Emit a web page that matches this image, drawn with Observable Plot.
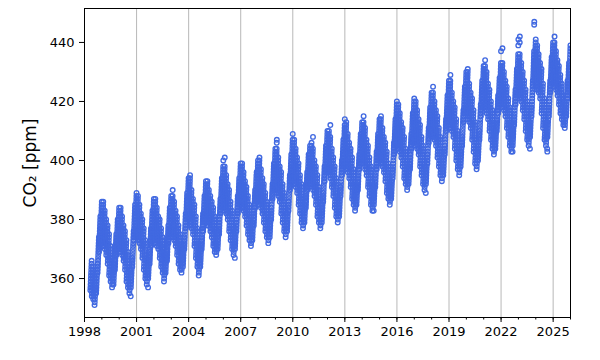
<!DOCTYPE html>
<html><head><meta charset="utf-8">
<script src="https://cdn.jsdelivr.net/npm/d3@7"></script>
<script src="https://cdn.jsdelivr.net/npm/@observablehq/plot@0.6"></script>
<style>body{margin:0;background:#fff}</style>
</head><body><div id="chart"></div>
<script>
// Years covered and tick labels
const years = [1998,1999,2000,2001,2002,2003,2004,2005,2006,2007,2008,2009,2010,2011,2012,2013,2014,2015,2016,2017,2018,2019,2020,2021,2022,2023,2024,2025];
const xMajorTicks = [1998,2001,2004,2007,2010,2013,2016,2019,2022,2025];
const xMinorTicks = [1998,1999,2000,2001,2002,2003,2004,2005,2006,2007,2008,2009,2010,2011,2012,2013,2014,2015,2016,2017,2018,2019,2020,2021,2022,2023,2024,2025,2026];
const yTicks = [360,380,400,420,440];
const yLabel = "CO₂ [ppm]";

// CO2 samples [ppm], one string per month (Jan..Dec)
const co2_1998 = ["","","","",
"356 357 358 359 360 361 362 363 364 365 366",
"354 355 356 357 358 359 360 361 362 363 364",
"353 354 355 356 357 358 359 360 361 351",
"352 353 354 355 356 357 358 359 360",
"355 356 357 358 359 360 361 362 363 364 365",
"362 363 364 365 366 367 368 369 370 371 372 373 374",
"369 370 371 372 373 374 375 376 377 378 379 380 381",
"372 373 374 375 376 377 378 379 380 381 382 383 384 385 386"];
const co2_1999 = [
"372 373 374 375 376 377 378 379 380 381 382 383 384 385 386",
"371 372 373 374 375 376 377 378 379 380 381 382 383",
"370 371 372 373 374 375 376 377 378 379 380",
"368 369 370 371 372 373 374 375 376 377 378",
"365 366 367 368 369 370 371 372 373 374 375",
"361 362 363 364 365 366 367 368 369 370 371",
"359 360 361 362 363 364 365 366 367",
"357 358 359 360 361 362 363 364 365",
"358 359 360 361 362 363 364 365 366 367 368",
"363 364 365 366 367 368 369 370 371 372 373 374 375",
"368 369 370 371 372 373 374 375 376 377 378 379 380",
"370 371 372 373 374 375 376 377 378 379 380 381 382 383 384"];
const co2_2000 = [
"370 371 372 373 374 375 376 377 378 379 380 381 382 383 384",
"369 370 371 372 373 374 375 376 377 378 379 380 381",
"368 369 370 371 372 373 374 375 376 377 378",
"366 367 368 369 370 371 372 373 374 375 376",
"363 364 365 366 367 368 369 370 371 372 373",
"359 360 361 362 363 364 365 366 367 368 369",
"357 358 359 360 361 362 363 364 365",
"355 356 357 358 359 360 361 362 363 354",
"357 358 359 360 361 362 363 364 365 366 367",
"364 365 366 367 368 369 370 371 372 373 374 375 376",
"373 374 375 376 377 378 379 380 381 382 383 384 385",
"374 375 376 377 378 379 380 381 382 383 384 385 386 387 388 389"];
const co2_2001 = [
"374 375 376 377 378 379 380 381 382 383 384 385 386 387 388",
"373 374 375 376 377 378 379 380 381 382 383 384 385",
"372 373 374 375 376 377 378 379 380 381 382",
"370 371 372 373 374 375 376 377 378 379 380",
"367 368 369 370 371 372 373 374 375 376 377",
"363 364 365 366 367 368 369 370 371 372 373",
"360 361 362 363 364 365 366 367 368",
"358 359 360 361 362 363 364 365 366 357",
"360 361 362 363 364 365 366 367 368 369 370",
"365 366 367 368 369 370 371 372 373 374 375 376 377",
"371 372 373 374 375 376 377 378 379 380 381 382 383",
"373 374 375 376 377 378 379 380 381 382 383 384 385 386 387"];
const co2_2002 = [
"373 374 375 376 377 378 379 380 381 382 383 384 385 386 387",
"372 373 374 375 376 377 378 379 380 381 382 383 384",
"371 372 373 374 375 376 377 378 379 380 381",
"370 371 372 373 374 375 376 377 378 379 380",
"367 368 369 370 371 372 373 374 375 376 377",
"364 365 366 367 368 369 370 371 372 373 374",
"362 363 364 365 366 367 368 369 370 359",
"360 361 362 363 364 365 366 367 368",
"362 363 364 365 366 367 368 369 370 371 372",
"366 367 368 369 370 371 372 373 374 375 376 377 378",
"372 373 374 375 376 377 378 379 380 381 382 383 384",
"374 375 376 377 378 379 380 381 382 383 384 385 386 387 388"];
const co2_2003 = [
"374 375 376 377 378 379 380 381 382 383 384 385 386 387 388 390",
"374 375 376 377 378 379 380 381 382 383 384 385 386",
"373 374 375 376 377 378 379 380 381 382 383",
"371 372 373 374 375 376 377 378 379 380 381",
"368 369 370 371 372 373 374 375 376 377 378",
"365 366 367 368 369 370 371 372 373 374 375",
"363 364 365 366 367 368 369 370 371",
"362 363 364 365 366 367 368 369 370",
"364 365 366 367 368 369 370 371 372 373 374",
"370 371 372 373 374 375 376 377 378 379 380 381 382",
"377 378 379 380 381 382 383 384 385 386 387 388 389",
"380 381 382 383 384 385 386 387 388 389 390 391 392 393 394"];
const co2_2004 = [
"380 381 382 383 384 385 386 387 388 389 390 391 392 393 394 395",
"378 379 380 381 382 383 384 385 386 387 388 389 390",
"377 378 379 380 381 382 383 384 385 386 387",
"375 376 377 378 379 380 381 382 383 384 385",
"371 372 373 374 375 376 377 378 379 380 381",
"367 368 369 370 371 372 373 374 375 376 377",
"364 365 366 367 368 369 370 371 372 361",
"362 363 364 365 366 367 368 369 370",
"364 365 366 367 368 369 370 371 372 373 374",
"370 371 372 373 374 375 376 377 378 379 380 381 382",
"376 377 378 379 380 381 382 383 384 385 386 387 388",
"379 380 381 382 383 384 385 386 387 388 389 390 391 392 393"];
const co2_2005 = [
"379 380 381 382 383 384 385 386 387 388 389 390 391 392 393",
"378 379 380 381 382 383 384 385 386 387 388 389 390",
"378 379 380 381 382 383 384 385 386 387 388",
"376 377 378 379 380 381 382 383 384 385 386",
"374 375 376 377 378 379 380 381 382 383 384",
"371 372 373 374 375 376 377 378 379 380 381",
"369 370 371 372 373 374 375 376 377",
"368 369 370 371 372 373 374 375 376",
"370 371 372 373 374 375 376 377 378 379 380",
"375 376 377 378 379 380 381 382 383 384 385 386 387",
"382 383 384 385 386 387 388 389 390 391 392 393 394",
"384 385 386 387 388 389 390 391 392 393 394 395 396 397 398 400"];
const co2_2006 = [
"384 385 386 387 388 389 390 391 392 393 394 395 396 397 398 401",
"383 384 385 386 387 388 389 390 391 392 393 394 395",
"382 383 384 385 386 387 388 389 390 391 392",
"380 381 382 383 384 385 386 387 388 389 390",
"376 377 378 379 380 381 382 383 384 385 386",
"373 374 375 376 377 378 379 380 381 382 383",
"370 371 372 373 374 375 376 377 378",
"368 369 370 371 372 373 374 375 376 367",
"370 371 372 373 374 375 376 377 378 379 380",
"376 377 378 379 380 381 382 383 384 385 386 387 388",
"382 383 384 385 386 387 388 389 390 391 392 393 394",
"385 386 387 388 389 390 391 392 393 394 395 396 397 398 399"];
const co2_2007 = [
"385 386 387 388 389 390 391 392 393 394 395 396 397 398 399",
"384 385 386 387 388 389 390 391 392 393 394 395 396",
"383 384 385 386 387 388 389 390 391 392 393",
"381 382 383 384 385 386 387 388 389 390 391",
"378 379 380 381 382 383 384 385 386 387 388",
"375 376 377 378 379 380 381 382 383 384 385",
"373 374 375 376 377 378 379 380 381",
"371 372 373 374 375 376 377 378 379",
"373 374 375 376 377 378 379 380 381 382 383",
"378 379 380 381 382 383 384 385 386 387 388 389 390",
"384 385 386 387 388 389 390 391 392 393 394 395 396",
"386 387 388 389 390 391 392 393 394 395 396 397 398 399 400"];
const co2_2008 = [
"386 387 388 389 390 391 392 393 394 395 396 397 398 399 400 401",
"385 386 387 388 389 390 391 392 393 394 395 396 397",
"384 385 386 387 388 389 390 391 392 393 394",
"382 383 384 385 386 387 388 389 390 391 392",
"379 380 381 382 383 384 385 386 387 388 389",
"376 377 378 379 380 381 382 383 384 385 386",
"374 375 376 377 378 379 380 381 382",
"372 373 374 375 376 377 378 379 380",
"374 375 376 377 378 379 380 381 382 383 384",
"380 381 382 383 384 385 386 387 388 389 390 391 392",
"387 388 389 390 391 392 393 394 395 396 397 398 399",
"390 391 392 393 394 395 396 397 398 399 400 401 402 403 404"];
const co2_2009 = [
"390 391 392 393 394 395 396 397 398 399 400 401 402 403 404 406 407",
"389 390 391 392 393 394 395 396 397 398 399 400 401",
"388 389 390 391 392 393 394 395 396 397 398",
"386 387 388 389 390 391 392 393 394 395 396",
"382 383 384 385 386 387 388 389 390 391 392",
"379 380 381 382 383 384 385 386 387 388 389",
"376 377 378 379 380 381 382 383 384",
"374 375 376 377 378 379 380 381 382",
"376 377 378 379 380 381 382 383 384 385 386",
"383 384 385 386 387 388 389 390 391 392 393 394 395",
"390 391 392 393 394 395 396 397 398 399 400 401 402",
"393 394 395 396 397 398 399 400 401 402 403 404 405 406 407 409"];
const co2_2010 = [
"393 394 395 396 397 398 399 400 401 402 403 404 405 406 407",
"392 393 394 395 396 397 398 399 400 401 402 403 404",
"391 392 393 394 395 396 397 398 399 400 401",
"389 390 391 392 393 394 395 396 397 398 399",
"385 386 387 388 389 390 391 392 393 394 395",
"382 383 384 385 386 387 388 389 390 391 392",
"379 380 381 382 383 384 385 386 387",
"377 378 379 380 381 382 383 384 385",
"379 380 381 382 383 384 385 386 387 388 389",
"384 385 386 387 388 389 390 391 392 393 394 395 396",
"390 391 392 393 394 395 396 397 398 399 400 401 402",
"391 392 393 394 395 396 397 398 399 400 401 402 403 404 405"];
const co2_2011 = [
"392 393 394 395 396 397 398 399 400 401 402 403 404 405 406",
"392 393 394 395 396 397 398 399 400 401 402 403 404 408",
"390 391 392 393 394 395 396 397 398 399 400",
"388 389 390 391 392 393 394 395 396 397 398",
"385 386 387 388 389 390 391 392 393 394 395",
"381 382 383 384 385 386 387 388 389 390 391",
"379 380 381 382 383 384 385 386 387",
"377 378 379 380 381 382 383 384 385",
"379 380 381 382 383 384 385 386 387 388 389",
"386 387 388 389 390 391 392 393 394 395 396 397 398",
"393 394 395 396 397 398 399 400 401 402 403 404 405",
"396 397 398 399 400 401 402 403 404 405 406 407 408 409 410"];
const co2_2012 = [
"396 397 398 399 400 401 402 403 404 405 406 407 408 409 410",
"396 397 398 399 400 401 402 403 404 405 406 407 408 412",
"394 395 396 397 398 399 400 401 402 403 404",
"391 392 393 394 395 396 397 398 399 400 401",
"388 389 390 391 392 393 394 395 396 397 398",
"384 385 386 387 388 389 390 391 392 393 394",
"381 382 383 384 385 386 387 388 389",
"379 380 381 382 383 384 385 386 387",
"381 382 383 384 385 386 387 388 389 390 391",
"388 389 390 391 392 393 394 395 396 397 398 399 400",
"395 396 397 398 399 400 401 402 403 404 405 406 407",
"398 399 400 401 402 403 404 405 406 407 408 409 410 411 412 414"];
const co2_2013 = [
"398 399 400 401 402 403 404 405 406 407 408 409 410 411 412 413",
"397 398 399 400 401 402 403 404 405 406 407 408 409",
"396 397 398 399 400 401 402 403 404 405 406",
"394 395 396 397 398 399 400 401 402 403 404",
"391 392 393 394 395 396 397 398 399 400 401",
"387 388 389 390 391 392 393 394 395 396 397",
"385 386 387 388 389 390 391 392 393",
"383 384 385 386 387 388 389 390 391",
"385 386 387 388 389 390 391 392 393 394 395",
"390 391 392 393 394 395 396 397 398 399 400 401 402",
"397 398 399 400 401 402 403 404 405 406 407 408 409",
"399 400 401 402 403 404 405 406 407 408 409 410 411 412 413"];
const co2_2014 = [
"399 400 401 402 403 404 405 406 407 408 409 410 411 412 413 415",
"399 400 401 402 403 404 405 406 407 408 409 410 411",
"397 398 399 400 401 402 403 404 405 406 407",
"395 396 397 398 399 400 401 402 403 404 405",
"391 392 393 394 395 396 397 398 399 400 401",
"388 389 390 391 392 393 394 395 396 397 398",
"385 386 387 388 389 390 391 392 393",
"383 384 385 386 387 388 389 390 391 383",
"385 386 387 388 389 390 391 392 393 394 395",
"391 392 393 394 395 396 397 398 399 400 401 402 403",
"397 398 399 400 401 402 403 404 405 406 407 408 409",
"400 401 402 403 404 405 406 407 408 409 410 411 412 413 414"];
const co2_2015 = [
"400 401 402 403 404 405 406 407 408 409 410 411 412 413 414 415",
"399 400 401 402 403 404 405 406 407 408 409 410 411",
"398 399 400 401 402 403 404 405 406 407 408",
"396 397 398 399 400 401 402 403 404 405 406",
"393 394 395 396 397 398 399 400 401 402 403",
"389 390 391 392 393 394 395 396 397 398 399",
"387 388 389 390 391 392 393 394 395",
"385 386 387 388 389 390 391 392 393",
"387 388 389 390 391 392 393 394 395 396 397",
"394 395 396 397 398 399 400 401 402 403 404 405 406",
"402 403 404 405 406 407 408 409 410 411 412 413 414",
"405 406 407 408 409 410 411 412 413 414 415 416 417 418 419 420"];
const co2_2016 = [
"405 406 407 408 409 410 411 412 413 414 415 416 417 418 419",
"404 405 406 407 408 409 410 411 412 413 414 415 416",
"403 404 405 406 407 408 409 410 411 412 413",
"401 402 403 404 405 406 407 408 409 410 411",
"398 399 400 401 402 403 404 405 406 407 408",
"394 395 396 397 398 399 400 401 402 403 404",
"392 393 394 395 396 397 398 399 400",
"390 391 392 393 394 395 396 397 398",
"392 393 394 395 396 397 398 399 400 401 402",
"397 398 399 400 401 402 403 404 405 406 407 408 409",
"404 405 406 407 408 409 410 411 412 413 414 415 416",
"406 407 408 409 410 411 412 413 414 415 416 417 418 419 420 421"];
const co2_2017 = [
"406 407 408 409 410 411 412 413 414 415 416 417 418 419 420",
"405 406 407 408 409 410 411 412 413 414 415 416 417",
"404 405 406 407 408 409 410 411 412 413 414",
"402 403 404 405 406 407 408 409 410 411 412",
"398 399 400 401 402 403 404 405 406 407 408",
"395 396 397 398 399 400 401 402 403 404 405",
"392 393 394 395 396 397 398 399 400",
"390 391 392 393 394 395 396 397 398 389",
"392 393 394 395 396 397 398 399 400 401 402",
"399 400 401 402 403 404 405 406 407 408 409 410 411",
"406 407 408 409 410 411 412 413 414 415 416 417 418",
"409 410 411 412 413 414 415 416 417 418 419 420 421 422 423"];
const co2_2018 = [
"409 410 411 412 413 414 415 416 417 418 419 420 421 422 423 425",
"408 409 410 411 412 413 414 415 416 417 418 419 420",
"407 408 409 410 411 412 413 414 415 416 417",
"405 406 407 408 409 410 411 412 413 414 415",
"401 402 403 404 405 406 407 408 409 410 411",
"398 399 400 401 402 403 404 405 406 407 408",
"395 396 397 398 399 400 401 402 403",
"393 394 395 396 397 398 399 400 401",
"395 396 397 398 399 400 401 402 403 404 405",
"402 403 404 405 406 407 408 409 410 411 412 413 414",
"410 411 412 413 414 415 416 417 418 419 420 421 422",
"413 414 415 416 417 418 419 420 421 422 423 424 425 426 427"];
const co2_2019 = [
"413 414 415 416 417 418 419 420 421 422 423 424 425 426 427 429",
"411 412 413 414 415 416 417 418 419 420 421 422 423",
"410 411 412 413 414 415 416 417 418 419 420",
"408 409 410 411 412 413 414 415 416 417 418",
"404 405 406 407 408 409 410 411 412 413 414",
"400 401 402 403 404 405 406 407 408 409 410",
"397 398 399 400 401 402 403 404 405",
"395 396 397 398 399 400 401 402 403",
"398 399 400 401 402 403 404 405 406 407 408",
"405 406 407 408 409 410 411 412 413 414 415 416 417",
"413 414 415 416 417 418 419 420 421 422 423 424 425",
"416 417 418 419 420 421 422 423 424 425 426 427 428 429 430"];
const co2_2020 = [
"416 417 418 419 420 421 422 423 424 425 426 427 428 429 430 431",
"414 415 416 417 418 419 420 421 422 423 424 425 426",
"413 414 415 416 417 418 419 420 421 422 423",
"411 412 413 414 415 416 417 418 419 420 421",
"407 408 409 410 411 412 413 414 415 416 417",
"403 404 405 406 407 408 409 410 411 412 413",
"399 400 401 402 403 404 405 406 407",
"397 398 399 400 401 402 403 404 405",
"400 401 402 403 404 405 406 407 408 409 410",
"407 408 409 410 411 412 413 414 415 416 417 418 419",
"415 416 417 418 419 420 421 422 423 424 425 426 427",
"418 419 420 421 422 423 424 425 426 427 428 429 430 431 432"];
const co2_2021 = [
"418 419 420 421 422 423 424 425 426 427 428 429 430 431 432 434",
"418 419 420 421 422 423 424 425 426 427 428 429 430",
"416 417 418 419 420 421 422 423 424 425 426",
"414 415 416 417 418 419 420 421 422 423 424",
"410 411 412 413 414 415 416 417 418 419 420",
"407 408 409 410 411 412 413 414 415 416 417",
"404 405 406 407 408 409 410 411 412",
"402 403 404 405 406 407 408 409 410",
"404 405 406 407 408 409 410 411 412 413 414",
"410 411 412 413 414 415 416 417 418 419 420 421 422",
"416 417 418 419 420 421 422 423 424 425 426 427 428",
"419 420 421 422 423 424 425 426 427 428 429 430 431 432 433 437"];
const co2_2022 = [
"419 420 421 422 423 424 425 426 427 428 429 430 431 432 433 438",
"418 419 420 421 422 423 424 425 426 427 428 429 430",
"417 418 419 420 421 422 423 424 425 426 427",
"415 416 417 418 419 420 421 422 423 424 425",
"411 412 413 414 415 416 417 418 419 420 421",
"408 409 410 411 412 413 414 415 416 417 418",
"405 406 407 408 409 410 411 412 413",
"403 404 405 406 407 408 409 410 411 403",
"405 406 407 408 409 410 411 412 413 414 415",
"412 413 414 415 416 417 418 419 420 421 422 423 424",
"419 420 421 422 423 424 425 426 427 428 429 430 431",
"422 423 424 425 426 427 428 429 430 431 432 433 434 435 436 439 441"];
const co2_2023 = [
"422 423 424 425 426 427 428 429 430 431 432 433 434 435 436 440 442",
"421 422 423 424 425 426 427 428 429 430 431 432 433",
"420 421 422 423 424 425 426 427 428 429 430",
"417 418 419 420 421 422 423 424 425 426 427",
"414 415 416 417 418 419 420 421 422 423 424",
"410 411 412 413 414 415 416 417 418 419 420",
"407 408 409 410 411 412 413 414 415",
"405 406 407 408 409 410 411 412 413 404",
"408 409 410 411 412 413 414 415 416 417 418",
"415 416 417 418 419 420 421 422 423 424 425 426 427",
"425 426 427 428 429 430 431 432 433 434 435 436 437 446 447",
"427 428 429 430 431 432 433 434 435 436 437 438 439 440 441"];
const co2_2024 = [
"425 426 427 428 429 430 431 432 433 434 435 436 437 438 439",
"424 425 426 427 428 429 430 431 432 433 434 435 436",
"423 424 425 426 427 428 429 430 431 432 433",
"421 422 423 424 425 426 427 428 429 430 431",
"416 417 418 419 420 421 422 423 424 425 426",
"411 412 413 414 415 416 417 418 419 420 421",
"407 408 409 410 411 412 413 414 415",
"405 406 407 408 409 410 411 412 413 404 403",
"408 409 410 411 412 413 414 415 416 417 418",
"415 416 417 418 419 420 421 422 423 424 425 426 427",
"423 424 425 426 427 428 429 430 431 432 433 434 435",
"426 427 428 429 430 431 432 433 434 435 436 437 438 439 440"];
const co2_2025 = [
"426 427 428 429 430 431 432 433 434 435 436 437 438 439 440 442",
"425 426 427 428 429 430 431 432 433 434 435 436 437",
"424 425 426 427 428 429 430 431 432 433 434",
"422 423 424 425 426 427 428 429 430 431 432",
"419 420 421 422 423 424 425 426 427 428 429",
"416 417 418 419 420 421 422 423 424 425 426",
"414 415 416 417 418 419 420 421 422",
"412 413 414 415 416 417 418 419 420",
"411 412 413 414 415 416 417 418 419",
"415 416 417 418 419 420 421 422 423 424 425 426 427",
"421 422 423 424 425 426 427 428 429 430 431 432 433",
"424 425 426 427 428 429 430 431 432 433 434 435 436 437 438 439"];

const series = [co2_1998,co2_1999,co2_2000,co2_2001,co2_2002,co2_2003,co2_2004,co2_2005,co2_2006,co2_2007,co2_2008,co2_2009,co2_2010,co2_2011,co2_2012,co2_2013,co2_2014,co2_2015,co2_2016,co2_2017,co2_2018,co2_2019,co2_2020,co2_2021,co2_2022,co2_2023,co2_2024,co2_2025];

// Build table: each sample placed at its day within the month (decimal year)
const rows = [];
years.forEach((yr, yi) => {
  series[yi].forEach((s, m) => {
    const vals = s.split(/\s+/).filter(d => d !== "").map(Number);
    vals.forEach((v, i) => rows.push({t: yr + (m + (i + 0.5) / vals.length) / 12, co2: v}));
  });
});

const chart = Plot.plot({
  width: 600,
  height: 360,
  marginLeft: 84,
  marginRight: 30,
  marginTop: 8,
  marginBottom: 43,
  style: {fontFamily: "'DejaVu Sans', sans-serif", fontSize: "13px", color: "black", background: "white"},
  x: {domain: [1998, 2026], label: null},
  y: {domain: [346.8, 451.5], label: null},
  marks: [
    Plot.gridX(xMajorTicks, {stroke: "#b0b0b0", strokeOpacity: 1, strokeWidth: 0.9}),
    Plot.dot(rows, {x: "t", y: "co2", r: 2.3, stroke: "#4169e1", fill: "none", strokeWidth: 1.35, clip: true}),
    Plot.axisX(xMinorTicks, {tickSize: 2.5, tickFormat: () => "", label: null, stroke: "black"}),
    Plot.axisX(xMajorTicks, {tickSize: 5, tickPadding: 4, tickFormat: d => String(d), label: null, stroke: "black", fontSize: 13}),
    Plot.axisY(yTicks, {tickSize: 5, tickPadding: 5, tickFormat: d => String(d), label: null, stroke: "black", fontSize: 13}),
    Plot.text([yLabel], {text: d => d, frameAnchor: "left", dx: -54, rotate: -90, fontSize: 17, textAnchor: "middle", lineAnchor: "middle", fill: "black"}),
    Plot.frame({stroke: "black", strokeWidth: 1})
  ]
});
document.getElementById("chart").appendChild(chart);
</script>
</body></html>
